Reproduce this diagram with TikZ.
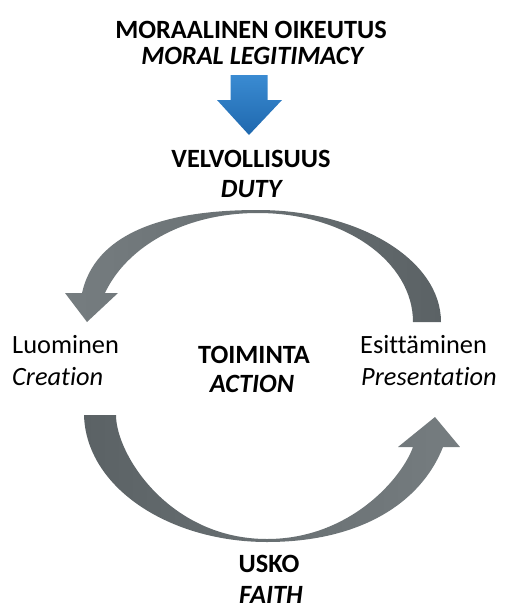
\documentclass[tikz,border=0pt]{standalone}
\usepackage{fontspec}
\setmainfont{Carlito}[Ligatures={NoCommon}]
\definecolor{arcdark}{HTML}{5B6265}
\definecolor{arclight}{HTML}{767D80}
\definecolor{bluetop}{HTML}{3A8BD2}
\definecolor{bluebottom}{HTML}{1F68AE}

\begin{document}
\begin{tikzpicture}[x=0.03cm, y=-0.03cm,
    txt/.style={font=\fontsize{22.5}{26}\selectfont, inner sep=0pt, anchor=base},
    txtleft/.style={txt, anchor=base west}]
\useasboundingbox (0,0) rectangle (507,608);

% top labels
    \node[txt] (moral)    at (251,38)  {\textbf{MORAALINEN OIKEUTUS}};
    \node[txt] (moralen)  at (253,64)  {\textbf{\textit{MORAL LEGITIMACY}}};
    \node[txt] (duty)     at (251,167) {\textbf{VELVOLLISUUS}};
    \node[txt] (dutyen)   at (252,197) {\textbf{\textit{DUTY}}};

% blue arrow
    \coordinate (arrtop) at (249,75);
    \coordinate (arrtip) at (249,135);
    \shade[top color=bluetop, bottom color=bluebottom]
        (arrtop) ++(-18.5,0) -- ++(0,25) -- ++(-13.5,0) -- (arrtip)
        -- ++(33,-35) -- ++(-14.5,0) -- ++(0,-25) -- cycle;

% middle labels
    \node[txtleft] (create)   at (12,353)  {Luominen};
    \node[txtleft] (createen) at (12,385)  {\textit{Creation}};
    \node[txt]     (action)   at (254,363) {\textbf{TOIMINTA}};
    \node[txt]     (actionen) at (252,392) {\textbf{\textit{ACTION}}};
    \node[txtleft] (present)  at (360,353) {Esittäminen};
    \node[txtleft] (presenten) at (361,385) {\textit{Presentation}};

% bottom labels
    \node[txt] (faith)   at (269,572) {\textbf{USKO}};
    \node[txt] (faithen) at (271,603) {\textbf{\textit{FAITH}}};

% upper arc, presentation to creation
    \shade[left color=arclight, right color=arcdark]
        (441,322) .. controls (441,260) and (359,210) .. (258,210)
        .. controls (160,210) and (95,235) .. (82,293)
        -- (65,293) -- (87,322) -- (118,293) -- (105,293)
        .. controls (125,250) and (180,213) .. (258,213)
        .. controls (345,213) and (413,262) .. (413,322) -- cycle;

% lower arc, creation to presentation
    \shade[left color=arcdark, right color=arclight]
        (84,415) .. controls (86,488) and (170,542) .. (267,542)
        .. controls (360,542) and (421,503) .. (443,447)
        -- (460,447) -- (435,417) -- (398,447) -- (413,447)
        .. controls (402,478) and (350,539) .. (267,539)
        .. controls (170,539) and (116,455) .. (116,415) -- cycle;

\end{tikzpicture}
\end{document}
